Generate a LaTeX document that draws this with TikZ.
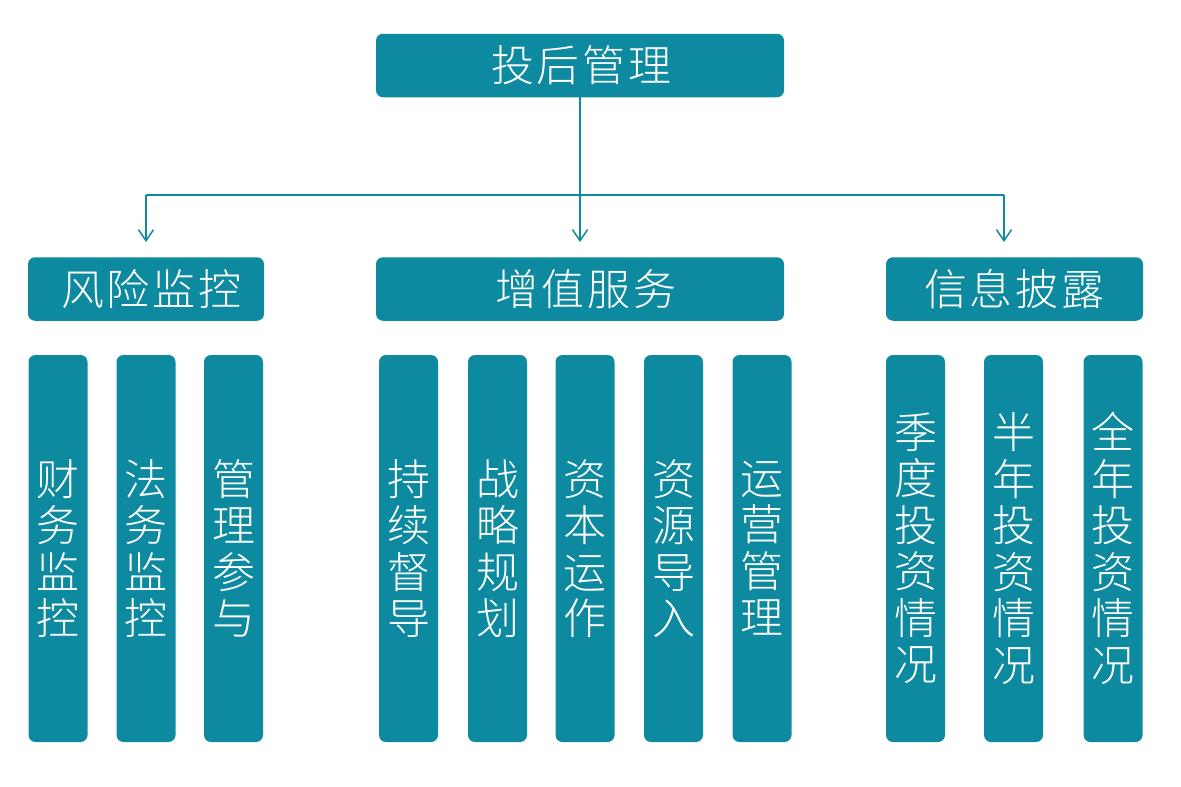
\documentclass[tikz,border=0pt]{standalone}
\usepackage{fontspec}
\newfontfamily\cjk{Noto Sans CJK SC Light}
\usetikzlibrary{arrows.meta}
\definecolor{teal1}{HTML}{0D8A9F}
\begin{document}
\begin{tikzpicture}[x=1pt,y=-1pt,
  box/.style={fill=teal1, rounded corners=7pt, inner sep=0pt, text=white,
    font=\cjk\fontsize{43}{46.5}\selectfont},
  hbox/.style={box, minimum height=63.5pt},
  col/.style={box, minimum width=59pt, minimum height=387pt, align=center},
  conn/.style={draw=teal1, line width=1.5pt},
  arr/.style={conn, -{Straight Barb[length=11pt,width=15pt]}}]
\useasboundingbox (0,0) rectangle (1181,787);
% top
\node[hbox, minimum width=408pt] (top) at (580,65.5) {\hspace{3pt}投\kern3pt 后\kern3pt 管\kern3pt 理};
% middle level
\node[hbox, minimum width=236pt] (m1) at (146,289) {\hspace{11pt}风\kern3pt 险\kern3pt 监\kern3pt 控};
\node[hbox, minimum width=408pt] (m2) at (580,289) {\hspace{12pt}增\kern3pt 值\kern3pt 服\kern3pt 务};
\node[hbox, minimum width=257pt] (m3) at (1014.5,289) {信\kern3pt 息\kern3pt 披\kern3pt 露\hspace{5pt}};
% columns
\node[col] (a1) at (58,548.5) {财\\务\\监\\控};
\node[col] (a2) at (146,548.5) {法\\务\\监\\控};
\node[col] (a3) at (233.5,548.5) {管\\理\\参\\与};
\node[col] (b1) at (408.5,548.5) {持\\续\\督\\导};
\node[col] (b2) at (497.5,548.5) {战\\略\\规\\划};
\node[col] (b3) at (585,548.5) {资\\本\\运\\作};
\node[col] (b4) at (673.5,548.5) {资\\源\\导\\入};
\node[col] (b5) at (762,548.5) {运\\营\\管\\理};
\node[col] (c1) at (915.5,548.5) {季\\度\\投\\资\\情\\况};
\node[col] (c2) at (1013.5,548.5) {半\\年\\投\\资\\情\\况};
\node[col] (c3) at (1113,548.5) {全\\年\\投\\资\\情\\况};
% connectors
\coordinate (busL) at (146,195);
\coordinate (busR) at (1004,195);
\coordinate (tipL) at (146,242);
\coordinate (tipM) at (580,242);
\coordinate (tipR) at (1004,242);
\draw[conn] (busL) -- (busR);
\draw[arr] (top.south) -- (tipM);
\draw[arr] (busL) -- (tipL);
\draw[arr] (busR) -- (tipR);
\end{tikzpicture}
\end{document}
